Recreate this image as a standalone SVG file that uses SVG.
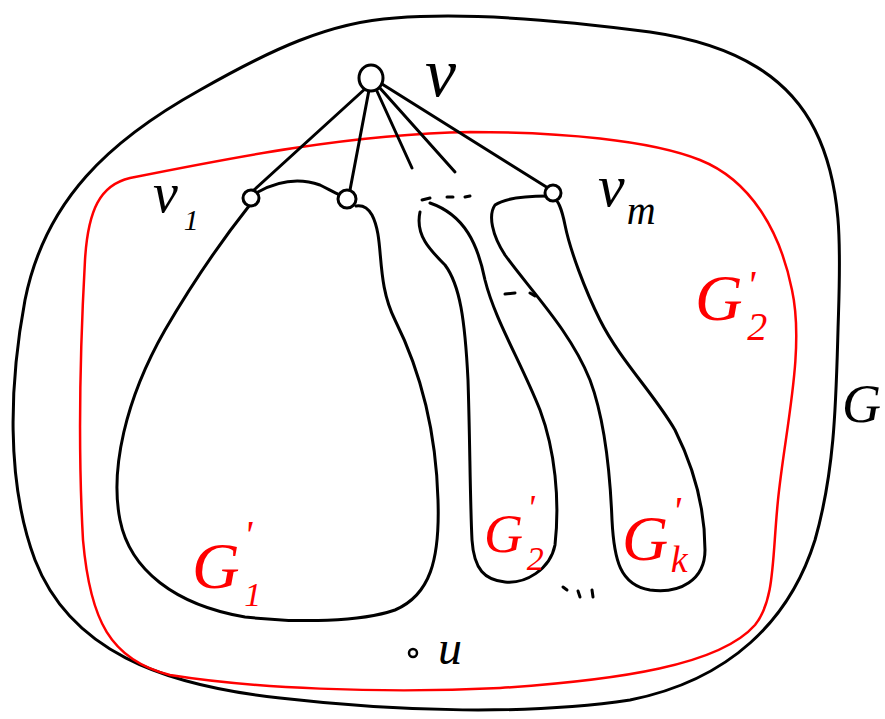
<svg xmlns="http://www.w3.org/2000/svg" width="885" height="719" viewBox="0 0 885 719">
<style>
.k{fill:none;stroke:#000;stroke-width:3;stroke-linecap:round;stroke-linejoin:round}
.r{fill:none;stroke:#f00;stroke-width:2.5;stroke-linecap:round;stroke-linejoin:round}
.nd{fill:#fff;stroke:#000;stroke-width:3}
.lb{font-family:"Liberation Serif",serif;font-style:italic;fill:#000}
.lr{font-family:"Liberation Serif",serif;font-style:italic;fill:#f00}
</style>
<rect width="885" height="719" fill="#fff"/>
<g id="G">
<path class="k" d="M395,18 C470,12 560,20 650,32 C740,45 790,80 815,130 C845,190 840,260 838,330 C836,400 835,470 815,540 C790,620 730,680 630,700 C530,715 400,712 280,698 C160,685 70,650 35,560 C5,480 10,380 25,300 C45,200 110,140 200,90 C270,50 330,22 395,18 Z"/>
<text class="lb" x="842" y="422" font-size="54">G</text>
</g>
<g id="G2prime-region">
<path class="r" d="M470,132 C560,132 650,140 700,160 C750,180 780,230 792,290 C805,350 785,430 778,500 C772,560 775,600 755,625 C720,665 620,680 500,688 C380,694 250,688 170,675 C110,660 90,620 83,540 C78,450 80,350 85,260 C88,210 100,185 130,178 C230,158 350,134 470,132 Z"/>
<text class="lr" x="695" y="320" font-size="66">G<tspan dx="4" dy="-22" font-size="40">'</tspan><tspan dx="-8" dy="42" font-size="40">2</tspan></text>
</g>
<g id="connectors">
<path class="k" d="M366,88 L254,190"/>
<path class="k" d="M369,90 L350,190"/>
<path class="k" d="M376,89 L412,168"/>
<path class="k" d="M379,87 L455,172"/>
<path class="k" d="M382,84 L548,188"/>
<path class="k" d="M258,192 C280,180 300,178 320,185 C330,190 335,193 340,195"/>
<path class="k" d="M422,200 L430,198 M447,197 L453,197 M465,197 L470,196"/>
<path class="k" d="M505,294 L515,293 M530,293 L535,296"/>
<path class="k" d="M563,587 L567,590 M578,591 L580,597 M592,590 L593,597"/>
</g>
<g id="G1">
<path class="k" d="M249,206 C230,230 200,270 165,330 C125,400 110,470 120,520 C130,570 175,605 245,617 C300,623 360,622 395,610 C430,595 440,560 438,500 C436,430 420,370 395,320 C375,280 385,240 372,215 C368,208 362,205 356,206"/>
<text class="lr" x="192" y="588" font-size="66">G<tspan dx="4" dy="-40" font-size="40">'</tspan><tspan dx="-8" dy="58" font-size="34">1</tspan></text>
</g>
<g id="G2">
<path class="k" d="M420,212 C415,235 430,250 445,265 C460,285 465,320 468,380 C470,440 470,500 472,540 C474,570 485,580 505,582 C525,584 550,570 555,545 C560,500 555,450 540,410 C520,360 495,320 485,280 C478,245 465,215 430,203"/>
<text class="lr" x="484" y="552" font-size="54">G<tspan dx="4" dy="-32" font-size="36">'</tspan><tspan dx="-8" dy="50" font-size="34">2</tspan></text>
</g>
<g id="Gk">
<path class="k" d="M548,196 C530,196 505,198 495,205 C488,215 492,235 505,255 C530,290 570,330 590,380 C605,420 610,470 612,520 C614,560 620,585 650,590 C680,594 705,580 705,550 C705,510 695,470 675,430 C655,395 620,360 600,320 C585,290 570,250 565,225 C562,210 558,200 555,200"/>
<text class="lr" x="622" y="560" font-size="64">G<tspan dx="4" dy="-36" font-size="40">'</tspan><tspan dx="-10" dy="48" font-size="38">k</tspan></text>
</g>
<g id="v">
<ellipse class="nd" cx="371" cy="78" rx="12" ry="13"/>
<text class="lb" x="425" y="96" font-size="70">v</text>
</g>
<g id="v1">
<circle class="nd" cx="251" cy="198" r="8"/>
<text class="lb" x="153" y="212" font-size="56">v<tspan dx="6" dy="18" font-size="30">1</tspan></text>
</g>
<g id="v2">
<circle class="nd" cx="347" cy="199" r="9"/>
</g>
<g id="vm">
<circle class="nd" cx="553" cy="193" r="8"/>
<text class="lb" x="598" y="206" font-size="60">v<tspan dx="2" dy="18" font-size="40">m</tspan></text>
</g>
<g id="u">
<circle cx="413" cy="653" r="4" fill="none" stroke="#000" stroke-width="2.5"/>
<text class="lb" x="438" y="664" font-size="48">u</text>
</g>
</svg>
